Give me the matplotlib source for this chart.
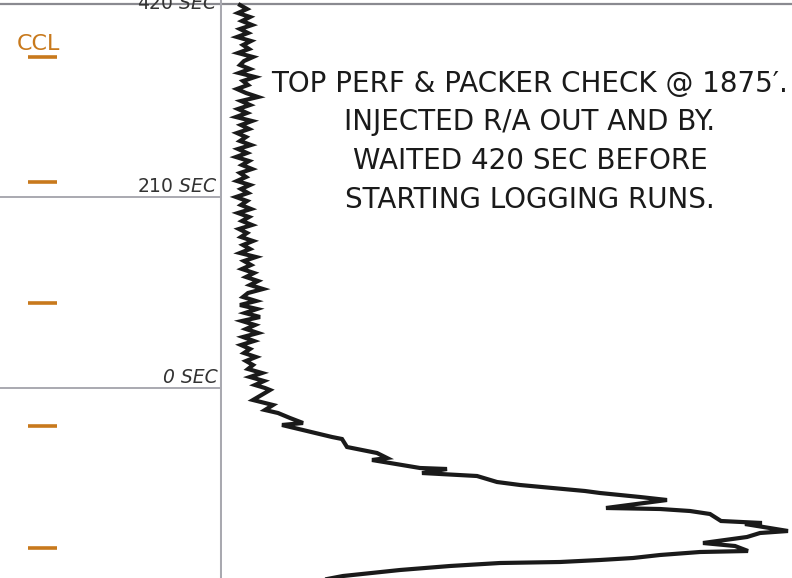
import matplotlib.pyplot as plt

# depth runs in picture rows (0 at top, 578 at bottom of the strip)
time_depths = [4, 197, 388]
time_labels = ["420", "210", "0"]
ccl_depths = [57, 182, 303, 426, 548]

# log curve: depth samples and counts (track units, left edge = 0)
curve_depth = [5, 9, 13, 17, 21, 25, 29, 33, 37, 41, 45, 49, 53, 57, 61, 65,
               69, 73, 77, 81, 85, 89, 93, 97, 101, 105, 109, 113, 117, 121,
               125, 129, 133, 137, 141, 145, 149, 153, 157, 161, 165, 169,
               173, 177, 181, 185, 189, 193, 197, 201, 205, 209, 213, 217,
               221, 225, 229, 233, 237, 241, 245, 249, 253, 257, 261, 265,
               269, 273, 277, 281, 285, 289, 293, 297, 301, 305, 309, 313,
               317, 321, 325, 329, 333, 337, 341, 345, 349, 353, 357, 361,
               365, 369, 373, 377, 381, 385,
               388, 390, 400, 405, 410, 413, 418, 423, 425, 430, 437, 439,
               447, 453, 458, 460, 468, 469, 473, 476, 482, 485, 489, 491,
               493, 497, 500, 508, 509, 511, 514, 521, 523, 524, 531, 533,
               537, 543, 546, 551, 552, 555, 558, 560, 562, 563, 566, 570,
               576, 580]
curve_counts = [18, 25, 16, 28, 20, 30, 18, 26, 15, 29, 21, 27, 16, 31,
                22, 18, 28, 17, 33, 21, 26, 15, 24, 36, 19, 28, 16, 25, 14,
                30, 19, 27, 15, 24, 18, 29, 16, 25, 14, 27, 20, 30, 18, 24,
                15, 28, 19, 26, 14, 25, 19, 29, 16, 27, 20, 30, 17, 25, 19,
                31, 21, 28, 18, 34, 22, 29, 20, 32, 24, 36, 28, 41, 26, 21,
                34, 18, 35, 23, 38, 20, 33, 24, 36, 21, 32, 19, 28, 22, 34,
                24, 31, 26, 40, 28, 42, 33,
                43, 48, 31, 51, 43, 56, 68, 81, 60, 81, 110, 120,
                125, 155, 165, 150, 198, 225, 200, 255, 275, 298, 341, 363,
                378, 418, 445, 384, 438, 468, 488, 499, 540, 523, 566, 538,
                525, 481, 513, 526, 478, 438, 411, 378, 338, 278, 228, 178,
                121, 100]

note_lines = ["TOP PERF & PACKER CHECK @ 1875\u2032.",
              "INJECTED R/A OUT AND BY.",
              "WAITED 420 SEC BEFORE",
              "STARTING LOGGING RUNS."]

orange = "#c8791c"
grid_gray = "#a9a9b0"
ink = "#1a1a1a"

fig = plt.figure(figsize=(7.92, 5.78), dpi=100)
ax_l = fig.add_axes([0, 0, 222 / 792, 1])
ax_r = fig.add_axes([222 / 792, 0, 570 / 792, 1], sharey=ax_l)

for ax in (ax_l, ax_r):
    ax.set_ylim(578, 0)
    ax.axis("off")
ax_l.set_xlim(0, 222)
ax_r.set_xlim(0, 570)

# track borders
ax_l.axhline(time_depths[0], color="#8a8a90", lw=1.6)
ax_r.axhline(time_depths[0], color="#8a8a90", lw=1.6)
ax_l.axvline(221, color=grid_gray, lw=2.2)
for d in time_depths[1:]:
    ax_l.axhline(d, color=grid_gray, lw=1.4)

# time labels (top one sits mostly above the strip, as on the log)
for d, lab in zip(time_depths, time_labels):
    y = 9 if lab == "420" else d - 5
    if lab == "0":
        ax_l.text(218, y, "0 SEC", ha="right", va="baseline",
                  fontsize=13.5, style="italic", color="#333333")
    else:
        ax_l.text(218, y, lab + " $\\mathit{SEC}$", ha="right",
                  va="baseline", fontsize=13.5, color="#333333",
                  clip_on=False)

# CCL track
ax_l.text(17, 50, "CCL", ha="left", va="baseline", fontsize=16,
          color=orange)
for d in ccl_depths:
    ax_l.plot([28, 57], [d, d], color=orange, lw=2.6, solid_capstyle="butt")

# log curve
ax_r.plot(curve_counts, curve_depth, color=ink, lw=3.0,
          solid_joinstyle="miter")

# annotation
for i, line in enumerate(note_lines):
    ax_r.text(308, 92 + i * 38.5, line, ha="center", va="baseline",
              fontsize=20, color=ink)

fig.savefig("out.png", dpi=100)
